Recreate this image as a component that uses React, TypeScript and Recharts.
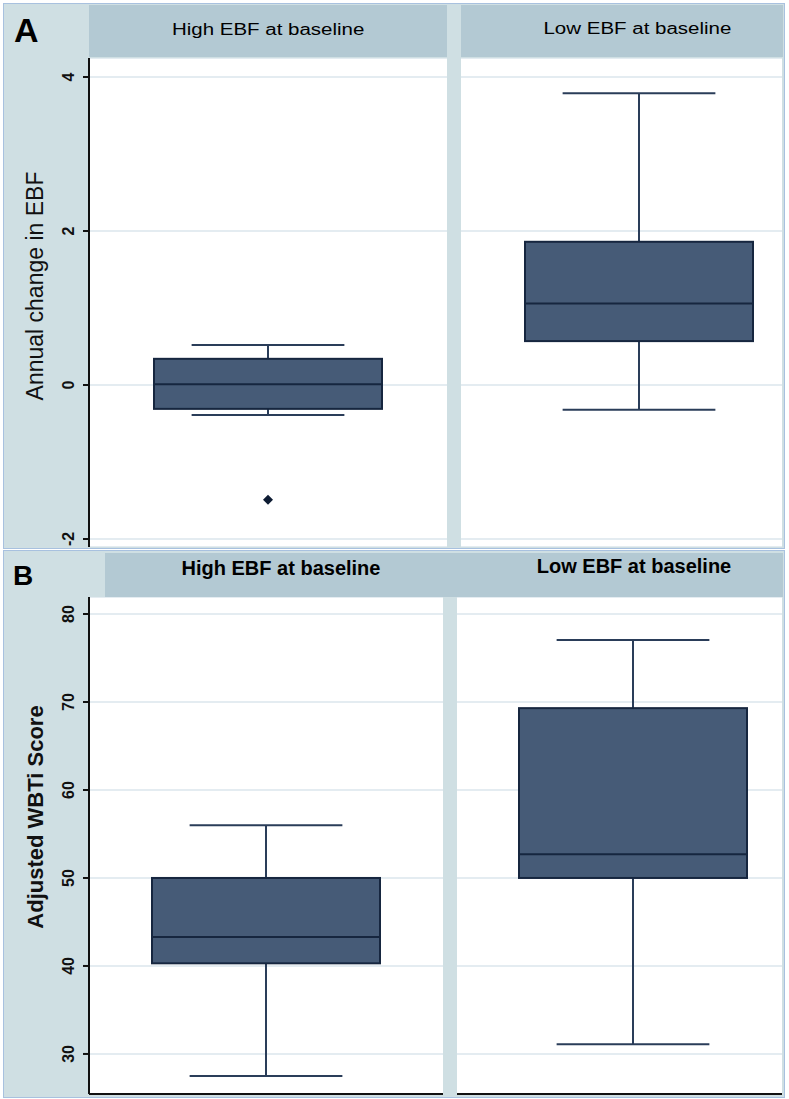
import React from 'react';
import { ComposedChart, Bar, Scatter, XAxis, YAxis, CartesianGrid } from 'recharts';

const groups = ['High EBF at baseline', 'Low EBF at baseline'];

// Panel A: annual change in EBF
const ebfTicks = [-2, 0, 2, 4];
const ebfLow = [-0.39, -0.32];
const ebfQ1 = [-0.31, 0.57];
const ebfMedian = [0.01, 1.06];
const ebfQ3 = [0.34, 1.86];
const ebfHigh = [0.52, 3.79];
const ebfOutlier = [-1.49, null];

// Panel B: adjusted WBTi score
const wbtiTicks = [30, 40, 50, 60, 70, 80];
const wbtiLow = [27.5, 31.1];
const wbtiQ1 = [40.3, 50.0];
const wbtiMedian = [43.3, 52.7];
const wbtiQ3 = [50.0, 69.3];
const wbtiHigh = [56.0, 77.05];
const wbtiOutlier = [null, null];

const makeRows = (low, q1, median, q3, high, outlier) =>
  groups.map((group, i) => ({
    group,
    low: low[i],
    q1: q1[i],
    median: median[i],
    q3: q3[i],
    high: high[i],
    outlier: outlier[i],
  }));

const ebfRows = makeRows(ebfLow, ebfQ1, ebfMedian, ebfQ3, ebfHigh, ebfOutlier);
const wbtiRows = makeRows(wbtiLow, wbtiQ1, wbtiMedian, wbtiQ3, wbtiHigh, wbtiOutlier);

const FONT = '"Liberation Sans", Arial, Helvetica, sans-serif';
const GUTTER = '#cfdfe3';
const STRIP = '#b3c9d3';
const BORDER = '#a8c1df';
const BOX_FILL = '#465b77';
const BOX_EDGE = '#16263f';
const WHISKER = '#2a3d59';
const GRID = '#dbe6ec';
const AXIS = '#111111';

// whole box drawn from the range bar [low, high] that recharts has scaled
function BoxShape(props: any) {
  const { x, y, width, height, payload } = props;
  if (!payload || width == null) return null;
  const top = Math.min(y, y + height);
  const bottom = Math.max(y, y + height);
  const span = payload.high - payload.low;
  const py = (v: number) => bottom - ((v - payload.low) / span) * (bottom - top);
  const cx = x + width / 2;
  const cap = width * 0.335;
  return (
    <g>
      <line x1={cx} x2={cx} y1={py(payload.high)} y2={py(payload.q3)} stroke={WHISKER} strokeWidth={2} />
      <line x1={cx} x2={cx} y1={py(payload.q1)} y2={py(payload.low)} stroke={WHISKER} strokeWidth={2} />
      <line x1={cx - cap} x2={cx + cap} y1={py(payload.high)} y2={py(payload.high)} stroke={WHISKER} strokeWidth={2} />
      <line x1={cx - cap} x2={cx + cap} y1={py(payload.low)} y2={py(payload.low)} stroke={WHISKER} strokeWidth={2} />
      <rect
        x={x}
        y={py(payload.q3)}
        width={width}
        height={py(payload.q1) - py(payload.q3)}
        fill={BOX_FILL}
        stroke={BOX_EDGE}
        strokeWidth={2}
      />
      <line x1={x} x2={x + width} y1={py(payload.median)} y2={py(payload.median)} stroke={BOX_EDGE} strokeWidth={2} />
    </g>
  );
}

function Diamond(props: any) {
  const { cx, cy } = props;
  if (cx == null || cy == null) return null;
  const r = 5;
  return <polygon points={`${cx},${cy - r} ${cx + r},${cy} ${cx},${cy + r} ${cx - r},${cy}`} fill="#0e1c33" />;
}

function RotatedTick(props: any) {
  const { x, y, payload } = props;
  return (
    <text
      x={x}
      y={y}
      transform={`rotate(-90 ${x} ${y})`}
      textAnchor="middle"
      fontFamily={FONT}
      fontSize={16}
      fontWeight="bold"
      fill="#111"
    >
      {payload.value}
    </text>
  );
}

function YTitle(props: any) {
  const { tx, ty, text, size, bold } = props;
  return (
    <text
      x={tx}
      y={ty}
      transform={`rotate(-90 ${tx} ${ty})`}
      textAnchor="middle"
      fontFamily={FONT}
      fontSize={size}
      fontWeight={bold ? 'bold' : 'normal'}
      fill="#111"
    >
      {text}
    </text>
  );
}

function Facet(props: any) {
  const { row, left, top, width, height, domain, ticks, yAxisWidth, padLeft, showXLine, title } = props;
  return (
    <div style={{ position: 'absolute', left, top, width, height }}>
      <ComposedChart
        width={width}
        height={height}
        data={[row]}
        margin={{ top: 0, right: 0, bottom: 0, left: 0 }}
        barSize={228}
      >
        <CartesianGrid vertical={false} stroke={GRID} strokeWidth={1.5} fill="#ffffff" fillOpacity={1} />
        <XAxis
          dataKey="group"
          hide={!showXLine}
          height={3}
          tick={false}
          tickLine={false}
          axisLine={{ stroke: AXIS, strokeWidth: 2 }}
          padding={{ left: padLeft, right: 0 }}
        />
        <YAxis
          type="number"
          domain={domain}
          ticks={ticks}
          interval={0}
          allowDataOverflow
          hide={!yAxisWidth}
          width={yAxisWidth || 0}
          tickSize={6}
          tickMargin={9}
          tickLine={{ stroke: AXIS, strokeWidth: 2 }}
          axisLine={{ stroke: AXIS, strokeWidth: 2 }}
          tick={<RotatedTick />}
          label={title ? <YTitle {...title} /> : undefined}
        />
        <Bar dataKey={(d: any) => [d.low, d.high]} shape={<BoxShape />} isAnimationActive={false} />
        {row.outlier != null && (
          <Scatter dataKey="outlier" shape={<Diamond />} isAnimationActive={false} />
        )}
      </ComposedChart>
    </div>
  );
}

function Strip({ left, top, width, height }: any) {
  return <div style={{ position: 'absolute', left, top, width, height, background: STRIP }} />;
}

function HeaderText({ text, cx, cy, size, bold, stretch }: any) {
  return (
    <div
      style={{
        position: 'absolute',
        left: cx - 200,
        top: cy - 0.49 * size,
        width: 400,
        textAlign: 'center',
        fontSize: size,
        lineHeight: 1,
        fontWeight: bold ? 'bold' : 'normal',
        color: '#000',
        whiteSpace: 'nowrap',
      }}
    >
      <span style={{ display: 'inline-block', transform: `scaleX(${stretch})` }}>{text}</span>
    </div>
  );
}

export default function App() {
  const ebfDomain = [-2.104, 4.247];
  const wbtiDomain = [25.45, 81.93];
  return (
    <div
      style={{
        position: 'absolute',
        left: 0,
        top: 0,
        width: 789,
        height: 1099,
        background: '#ffffff',
        fontFamily: FONT,
        overflow: 'hidden',
      }}
    >
      {/* Panel A */}
      <div
        style={{
          position: 'absolute',
          left: 3,
          top: 3,
          width: 782,
          height: 546,
          background: GUTTER,
          border: `1px solid ${BORDER}`,
          boxSizing: 'border-box',
        }}
      />
      <Strip left={89} top={5} width={358} height={52} />
      <Strip left={461} top={5} width={322} height={52} />
      <div style={{ position: 'absolute', left: 14, top: 12.6, fontSize: 34, lineHeight: 1, fontWeight: 'bold', color: '#000' }}>
        A
      </div>
      <HeaderText text={groups[0]} cx={268} cy={30} size={16} stretch={1.28} />
      <HeaderText text={groups[1]} cx={637.5} cy={29} size={16} stretch={1.28} />
      <Facet
        row={ebfRows[0]}
        left={3}
        top={58}
        width={444}
        height={489}
        domain={ebfDomain}
        ticks={ebfTicks}
        yAxisWidth={86}
        padLeft={0}
        showXLine={false}
        title={{ tx: 40, ty: 228, text: 'Annual change in EBF', size: 23, bold: false }}
      />
      <Facet
        row={ebfRows[1]}
        left={461}
        top={58}
        width={321}
        height={489}
        domain={ebfDomain}
        ticks={ebfTicks}
        yAxisWidth={0}
        padLeft={35}
        showXLine={false}
      />

      {/* Panel B */}
      <div
        style={{
          position: 'absolute',
          left: 3,
          top: 550,
          width: 782,
          height: 548,
          background: GUTTER,
          border: `1px solid ${BORDER}`,
          boxSizing: 'border-box',
        }}
      />
      <Strip left={105} top={553} width={678} height={44} />
      <div style={{ position: 'absolute', left: 13, top: 562.4, fontSize: 28, lineHeight: 1, fontWeight: 'bold', color: '#000' }}>
        B
      </div>
      <HeaderText text={groups[0]} cx={281} cy={568} size={20} bold stretch={1} />
      <HeaderText text={groups[1]} cx={634} cy={565.5} size={20} bold stretch={1} />
      <Facet
        row={wbtiRows[0]}
        left={3}
        top={597}
        width={440}
        height={500}
        domain={wbtiDomain}
        ticks={wbtiTicks}
        yAxisWidth={86}
        padLeft={0}
        showXLine
        title={{ tx: 40, ty: 220, text: 'Adjusted WBTi Score', size: 22, bold: true }}
      />
      <Facet
        row={wbtiRows[1]}
        left={457}
        top={597}
        width={325}
        height={500}
        domain={wbtiDomain}
        ticks={wbtiTicks}
        yAxisWidth={0}
        padLeft={27}
        showXLine
      />
    </div>
  );
}
